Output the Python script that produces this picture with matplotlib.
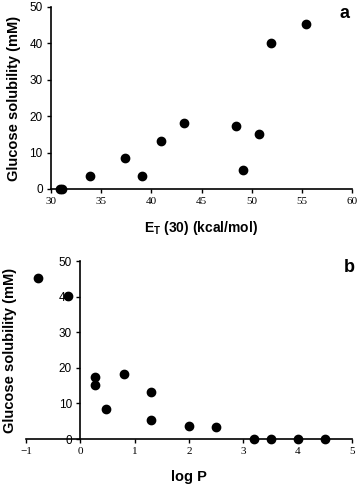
import numpy as np
import matplotlib
matplotlib.use('Agg')
import matplotlib.pyplot as plt

plt.rcParams['font.family'] = 'Liberation Sans'
plt.rcParams['axes.linewidth'] = 1.2
plt.rcParams['xtick.major.width'] = 1.0
plt.rcParams['ytick.major.width'] = 1.0
plt.rcParams['xtick.major.size'] = 3
plt.rcParams['ytick.major.size'] = 3
plt.rcParams['xtick.labelsize'] = 8
plt.rcParams['ytick.labelsize'] = 8.5

# panel a: solubility vs E_T(30)
et30 = [30.9, 31.1, 33.9, 37.4, 39.1, 41.0, 43.3, 48.4, 49.1, 50.7, 51.9, 55.4]
sol_a = [0.0, 0.0, 3.5, 8.5, 3.6, 13.3, 18.2, 17.3, 5.3, 15.1, 40.1, 45.2]

# panel b: solubility vs log P
logp = [-0.77, -0.23, 0.27, 0.27, 0.48, 0.80, 1.30, 1.30, 2.0, 2.5, 3.2, 3.5, 4.0, 4.5]
sol_b = [45.2, 40.1, 17.3, 15.1, 8.5, 18.2, 13.3, 5.3, 3.6, 3.5, 0.0, 0.0, 0.0, 0.0]

W, H = 360, 487
fig = plt.figure(figsize=(W / 100, H / 100), dpi=100)

def px_axes(l, t, r, b):
    return fig.add_axes([l / W, 1 - b / H, (r - l) / W, (b - t) / H])

ax1 = px_axes(51, 7, 352, 189)
ax1.plot(et30, sol_a, 'o', color='black', markersize=6, clip_on=False)
ax1.set_xlim(30, 60)
ax1.set_ylim(0, 50)
ax1.set_xticks(np.arange(30, 61, 5))
ax1.set_yticks(np.arange(0, 51, 10))
for s in ['top', 'right']:
    ax1.spines[s].set_visible(False)
ax1.tick_params(pad=3)
for lab in ax1.get_xticklabels():
    lab.set_fontfamily('Liberation Serif')
ax1.set_xlabel('E$_\\mathregular{T}$ (30) (kcal/mol)', fontsize=10,
               fontweight='bold', labelpad=9)
ax1.set_ylabel('Glucose solubility (mM)', fontsize=10.5, fontweight='bold')
ax1.yaxis.set_label_coords(-0.1, 0.5)
fig.text(345 / W, 1 - 13 / H, 'a', fontsize=13, fontweight='bold',
         ha='center', va='center')

ax2 = px_axes(26, 261, 352, 439)
ax2.plot(logp, sol_b, 'o', color='black', markersize=6, clip_on=False)
ax2.set_xlim(-1, 5)
ax2.set_ylim(0, 50)
ax2.set_xticks(np.arange(-1, 6, 1))
ax2.set_yticks(np.arange(0, 51, 10))
ax2.spines['left'].set_position(('data', 0))
for s in ['top', 'right']:
    ax2.spines[s].set_visible(False)
ax2.tick_params(pad=3)
for lab in ax2.get_xticklabels():
    lab.set_fontfamily('Liberation Serif')
ax2.set_xlabel('log P', fontsize=10.5, fontweight='bold', labelpad=10)
ax2.set_ylabel('Glucose solubility (mM)', fontsize=10.5, fontweight='bold')
ax2.yaxis.set_label_coords(-0.027, 0.5)
fig.text(349 / W, 1 - 268 / H, 'b', fontsize=13, fontweight='bold',
         ha='center', va='center')

fig.savefig('out.png', dpi=100)
